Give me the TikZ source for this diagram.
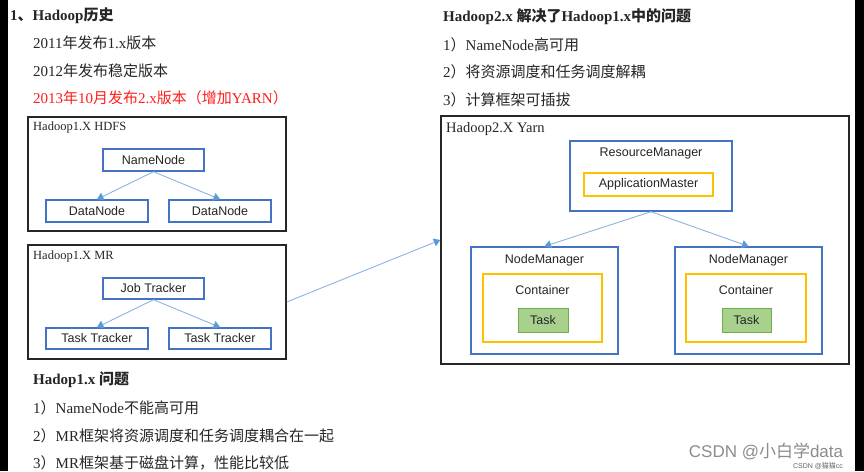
\documentclass[tikz,border=0pt]{standalone}
\usepackage{fontspec}
\setmainfont{Liberation Serif}
\setsansfont{Liberation Sans}
\newfontfamily\cjk{Noto Sans CJK SC}
\newcommand{\zh}[1]{{\cjk #1}}
\usetikzlibrary{arrows.meta}
\definecolor{boxblue}{RGB}{68,114,196}
\definecolor{arrblue}{RGB}{140,180,226}
\definecolor{tipblue}{RGB}{91,155,213}
\definecolor{amber}{RGB}{255,192,0}
\definecolor{taskfill}{RGB}{169,209,142}
\definecolor{taskline}{RGB}{112,173,71}
\definecolor{ink}{RGB}{38,38,38}
\definecolor{redtxt}{RGB}{255,30,30}
\begin{document}
\begin{tikzpicture}[x=1pt,y=-1pt,
  txt/.style={anchor=west,inner sep=0pt,text=ink,font=\fontsize{15}{18}\selectfont},
  lbl/.style={anchor=west,inner sep=0pt,text=ink,font=\fontsize{12.5}{15}\selectfont},
  outerbox/.style={draw=ink,line width=1.4pt,inner sep=0pt},
  bluebox/.style={draw=boxblue,line width=1.4pt,inner sep=0pt,text=ink,font=\sffamily\fontsize{12.5}{15}\selectfont},
  ambox/.style={draw=amber,line width=1.4pt,inner sep=0pt,text=ink,font=\sffamily\fontsize{12.5}{15}\selectfont},
  taskbox/.style={draw=taskline,fill=taskfill,line width=0.8pt,inner sep=0pt,text=ink,font=\sffamily\fontsize{12.5}{15}\selectfont},
  sflbl/.style={inner sep=0pt,text=ink,font=\sffamily\fontsize{12.5}{15}\selectfont},
  conn/.style={draw=arrblue,line width=0.9pt,-{Triangle[width=8pt,length=6.5pt,color=tipblue,fill=tipblue]}}
]
\useasboundingbox (0,0) rectangle (864,471);
\fill[white] (0,0) rectangle (864,471);
\fill[black] (0,0) rectangle (8,471);
\fill[black] (855,0) rectangle (864,471);

% left top texts
\node[txt,font=\bfseries\fontsize{15}{18}\selectfont] (h1) at (10,16) {1\zh{、}Hadoop\zh{历史}};
\node[txt] (l1) at (33,43) {2011\zh{年发布}1.x\zh{版本}};
\node[txt] (l2) at (33,71) {2012\zh{年发布稳定版本}};
\node[txt,text=redtxt] (l3) at (33,98) {2013\zh{年}10\zh{月发布}2.x\zh{版本（增加}YARN\zh{）}};

% HDFS
\node[outerbox,minimum width=258pt,minimum height=114pt] (hdfs) at (157,174) {};
\node[lbl] (hdfsl) at (33,127) {Hadoop1.X HDFS};
\node[bluebox,minimum width=101pt,minimum height=22pt] (nn) at (153.5,160) {NameNode};
\node[bluebox,minimum width=102pt,minimum height=22pt] (dn1) at (97,211) {DataNode};
\node[bluebox,minimum width=102pt,minimum height=22pt] (dn2) at (220,211) {DataNode};
\draw[conn] (nn.south) -- (dn1.north);
\draw[conn] (nn.south) -- (dn2.north);

% MR
\node[outerbox,minimum width=258pt,minimum height=114pt] (mr) at (157,302) {};
\node[lbl] (mrl) at (33,256) {Hadoop1.X MR};
\node[bluebox,minimum width=101pt,minimum height=21pt] (jt) at (153.5,288.5) {Job Tracker};
\node[bluebox,minimum width=102pt,minimum height=21pt] (tt1) at (97,338.5) {Task Tracker};
\node[bluebox,minimum width=102pt,minimum height=21pt] (tt2) at (220,338.5) {Task Tracker};
\draw[conn] (jt.south) -- (tt1.north);
\draw[conn] (jt.south) -- (tt2.north);

% bottom left texts
\node[txt,font=\bfseries\fontsize{15}{18}\selectfont] (h3) at (33,380) {Hadop1.x \zh{问题}};
\node[txt] (b1) at (33,408) {1\zh{）}NameNode\zh{不能高可用}};
\node[txt] (b2) at (33,436) {2\zh{）}MR\zh{框架将资源调度和任务调度耦合在一起}};
\node[txt] (b3) at (33,463) {3\zh{）}MR\zh{框架基于磁盘计算，性能比较低}};

% right top texts
\node[txt,font=\bfseries\fontsize{15}{18}\selectfont] (h2) at (443,17) {Hadoop2.x \zh{解决了}Hadoop1.x\zh{中的问题}};
\node[txt] (r1) at (443,45) {1\zh{）}NameNode\zh{高可用}};
\node[txt] (r2) at (443,72) {2\zh{）将资源调度和任务调度解耦}};
\node[txt] (r3) at (443,100) {3\zh{）计算框架可插拔}};

% Yarn
\node[outerbox,minimum width=408pt,minimum height=248pt] (yarn) at (645,240) {};
\node[txt,font=\fontsize{14.5}{17}\selectfont] (yarnl) at (446,129) {Hadoop2.X Yarn};
\node[bluebox,minimum width=162pt,minimum height=70pt] (rm) at (651,176) {};
\node[sflbl] (rml) at (651,153) {ResourceManager};
\node[ambox,minimum width=129pt,minimum height=23pt] (am) at (648.5,184.5) {ApplicationMaster};

\node[bluebox,minimum width=147pt,minimum height=107pt] (nm1) at (544.5,300.5) {};
\node[sflbl] (nm1l) at (544.5,260) {NodeManager};
\node[ambox,minimum width=119pt,minimum height=68pt] (c1) at (542.5,308) {};
\node[sflbl] (c1l) at (542.5,290) {Container};
\node[taskbox,minimum width=50pt,minimum height=24pt] (t1) at (543,320) {Task};

\node[bluebox,minimum width=147pt,minimum height=107pt] (nm2) at (748.5,300.5) {};
\node[sflbl] (nm2l) at (748.5,260) {NodeManager};
\node[ambox,minimum width=120pt,minimum height=68pt] (c2) at (746,308) {};
\node[sflbl] (c2l) at (746,290) {Container};
\node[taskbox,minimum width=49pt,minimum height=24pt] (t2) at (746.5,320) {Task};

\draw[conn] (rm.south) -- (nm1.north);
\draw[conn] (rm.south) -- (nm2.north);

% long arrow
\draw[conn] (mr.east) -- (yarn.west);

% watermark
\node[inner sep=0pt,text=black!45,font=\sffamily\fontsize{17}{20}\selectfont] (wm) at (766,451) {CSDN @\zh{小白学}data};
\node[inner sep=0pt,text=black!60,font=\sffamily\fontsize{7}{8}\selectfont] (wm2) at (818,466) {CSDN @\zh{猫猫}cc};
\end{tikzpicture}
\end{document}
